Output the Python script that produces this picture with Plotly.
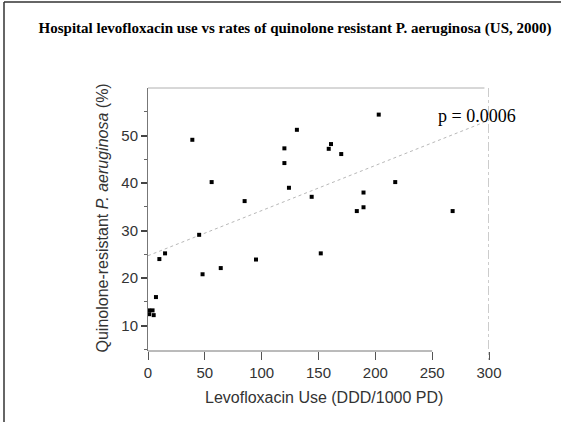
import plotly.graph_objects as go

# ---- data ----
levo_use = [10, 15, 39, 56, 45, 48, 64, 85, 95, 120, 120, 131, 124, 144, 152,
            203, 159, 161, 170, 217.5, 189.6, 189.6, 183.7, 268, 7, 1, 4, 5, 1]
resist_pct = [24, 25.2, 49.1, 40.2, 29.1, 20.8, 22.1, 36.2, 23.9, 47.3, 44.2, 51.2, 39, 37.1, 25.2,
              54.4, 47.2, 48.2, 46.1, 40.2, 38, 34.9, 34.1, 34.1, 16, 13.2, 13.2, 12.2, 12.4]
fit_x = [0, 300]
fit_y = [24.7, 53.2]
x_ticks = [0, 50, 100, 150, 200, 250, 300]
y_ticks = [10, 20, 30, 40, 50]
p_label = "p = 0.0006"

# ---- layout geometry ----
W, H = 561, 422
ML, MR, MT, MB = 148, 72, 88, 71
PW, PH = W - ML - MR, H - MT - MB
Y_RANGE = [4.65, 60]
X_RANGE = [0, 300]

def px(x):
    return (x - ML) / PW

def py(y):
    return (H - MB - y) / PH

sans = "Liberation Sans, Arial, sans-serif"
serif = "Liberation Serif, Times New Roman, serif"

fig = go.Figure()

fig.add_trace(go.Scatter(
    x=fit_x, y=fit_y, mode="lines",
    line=dict(color="#b8b8b8", width=1, dash="dot"),
    hoverinfo="skip", showlegend=False))

fig.add_trace(go.Scatter(
    x=levo_use, y=resist_pct, mode="markers",
    marker=dict(symbol="square", size=4, color="black"),
    cliponaxis=False, showlegend=False))

shapes = [
    # outer frame (top & left)
    dict(type="line", xref="paper", yref="paper", x0=px(4), x1=px(W + 2), y0=py(2), y1=py(2),
         line=dict(color="#333", width=1.5)),
    dict(type="line", xref="paper", yref="paper", x0=px(4), x1=px(4), y0=py(2), y1=py(H + 2),
         line=dict(color="#333", width=1.5)),
    # x axis line 0..250
    dict(type="line", xref="x", yref="paper", x0=0, x1=250, y0=0, y1=0,
         line=dict(color="#777", width=1)),
    # top border line
    dict(type="line", xref="x", yref="paper", x0=0, x1=296, y0=1, y1=1,
         line=dict(color="#b0b0b0", width=1)),
    # right dash-dot line at x=300
    dict(type="line", xref="x", yref="paper", x0=300, x1=300, y0=1, y1=py(H - MB + 9),
         line=dict(color="#999", width=1, dash="dashdot")),
]

annotations = [
    dict(text=p_label, xref="paper", yref="paper", x=px(476.7), y=py(116),
         xanchor="center", yanchor="middle", showarrow=False,
         font=dict(family=serif, size=18, color="black")),
    dict(text="Levofloxacin Use (DDD/1000 PD)", xref="paper", yref="paper",
         x=px(324), y=py(397), xanchor="center", yanchor="middle", showarrow=False,
         font=dict(family=sans, size=16, color="#333")),
    dict(text="Quinolone-resistant <i>P. aeruginosa</i> (%)", xref="paper", yref="paper",
         x=px(101.5), y=py(218), xanchor="center", yanchor="middle", showarrow=False,
         textangle=-90, font=dict(family=sans, size=16, color="#333")),
]

fig.update_layout(
    width=W, height=H,
    margin=dict(l=ML, r=MR, t=MT, b=MB, pad=0),
    paper_bgcolor="white", plot_bgcolor="white",
    title=dict(text="<b>Hospital levofloxacin use vs rates of quinolone resistant P. aeruginosa (US, 2000)</b>",
               xref="container", yref="container", x=295 / W, y=1 - 28 / H,
               xanchor="center", yanchor="middle",
               font=dict(family=serif, size=15, color="black")),
    shapes=shapes, annotations=annotations, showlegend=False,
    xaxis=dict(range=X_RANGE, showgrid=False, zeroline=False, showline=False,
               tickmode="array", tickvals=x_ticks, ticktext=[str(v) for v in x_ticks],
               ticks="outside", ticklen=8, tickcolor="#555", tickwidth=1,
               tickfont=dict(family=sans, size=15, color="#333")),
    yaxis=dict(range=Y_RANGE, showgrid=False, zeroline=False, showline=True,
               linecolor="#777", linewidth=1,
               tickmode="array", tickvals=y_ticks, ticktext=[str(v) for v in y_ticks],
               ticks="outside", ticklen=6, tickcolor="#444", tickwidth=1.5,
               minor=dict(tickmode="linear", tick0=5, dtick=10, ticks="outside",
                          ticklen=3, tickcolor="#666", tickwidth=1),
               tickfont=dict(family=sans, size=15, color="#333")),
)

fig.write_html("out.html")
